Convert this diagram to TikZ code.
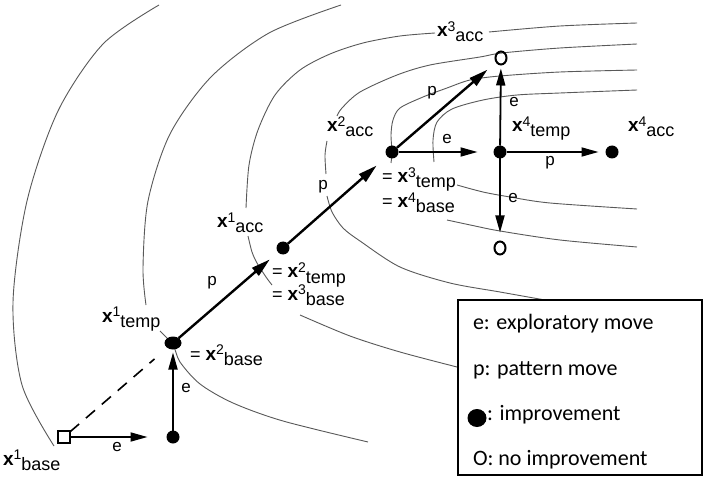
\documentclass[tikz,border=0pt]{standalone}
\usepackage{fontspec}
\setmainfont{Liberation Sans}
\newfontfamily\legfont{Carlito}
\usetikzlibrary{arrows.meta,shapes.geometric}
\newcommand{\xlab}[2]{{\fontsize{19bp}{20bp}\selectfont\bfseries x}\raisebox{5.5bp}{\fontsize{14bp}{14bp}\selectfont #1}\raisebox{-5bp}{#2}}
\begin{document}
\begin{tikzpicture}[x=1bp,y=-1bp,
  every node/.style={inner sep=0pt, outer sep=0pt},
  lab/.style={font=\fontsize{18bp}{20bp}\selectfont, anchor=base west},
  mv/.style={font=\fontsize{17bp}{18bp}\selectfont},
  legtext/.style={font=\legfont\fontsize{22bp}{24bp}\selectfont, anchor=base west},
  contour/.style={draw=black!65, line width=0.9bp},
  dot/.style={circle, fill=black, minimum size=13bp},
  edot/.style={ellipse, fill=black, minimum width=17bp, minimum height=13bp},
  odot/.style={ellipse, draw=black, line width=2bp, minimum width=11bp, minimum height=13bp},
  arrE/.style={line width=1.8bp, -{Triangle[length=17bp,width=9bp]}},
  arrP/.style={line width=2.4bp, -{Triangle[length=19bp,width=10bp]}},
  sq/.style={draw, line width=1.5bp, minimum size=12bp, fill=white}
]
\useasboundingbox (0,0) rectangle (703,479);
\fill[white] (0,0) rectangle (703,479);

% contour lines
\draw[contour] plot[smooth] coordinates {(159,5) (103,44) (58,111) (27,201) (13,302) (22,385) (54,446)};
\draw[contour] plot[smooth] coordinates {(341,5) (269,33) (211,77) (170,134) (148,201) (143,268) (146,305)};
\draw[contour] plot[smooth] coordinates {(160,331) (173,345) (180,362) (200,384) (233,403) (283,421) (368,442)};
\draw[contour] plot[smooth] coordinates {(489,32) (560,26) (637,23)};
\draw[contour] plot[smooth] coordinates {(435,33) (400,36) (363,43) (330,54) (300,70) (275,95) (258,130) (249,165) (246,208)};
\draw[contour] plot[smooth] coordinates {(248,236) (252,252) (257,263) (266,277) (272,285)};
\draw[contour] plot[smooth] coordinates {(300,315) (350,336) (400,352) (457,367)};
\draw[contour] plot[smooth] coordinates {(637,44) (560,48) (502,53) (480,57) (430,65) (397,75) (360,92) (342,108) (337,116)};
\draw[contour] plot[smooth] coordinates {(327,141) (325,155) (326,174)};
\draw[contour] plot[smooth] coordinates {(327,196) (332,212) (343,228) (360,241) (400,267) (450,283) (500,292) (545,300)};
\draw[contour] plot[smooth] coordinates {(637,70) (560,72) (500,76) (470,80) (447,88) (423,97) (400,108) (393,120) (391,135) (392,152) (391,163)};
\draw[contour] plot[smooth] coordinates {(457,185) (483,192) (510,197) (550,203) (637,209)};
\draw[contour] plot[smooth] coordinates {(637,90) (560,93) (517,95) (483,100) (452,109) (437,122) (433,140) (434,162)};
\draw[contour] plot[smooth] coordinates {(447,220) (475,226) (500,231) (560,240) (637,247)};

% points
\node[sq] (b1) at (64,437) {};
\node[dot] (d0) at (173,437) {};
\node[edot] (t1) at (173,343) {};
\node[dot] (d2) at (283,248) {};
\node[dot] (d3) at (392,152) {};
\node[dot] (d4) at (500,152) {};
\node[dot] (d5) at (612,152) {};
\node[odot] (ct) at (501,58) {};
\node[odot] (cb) at (500,248) {};

% moves
\draw[arrE, shorten >=19bp] (b1) -- (d0);
\draw[arrE, shorten >=3bp] (d0) -- (t1);
\draw[line width=1.6bp, dash pattern=on 12bp off 9bp, shorten >=17bp] (b1) -- (t1);
\draw[arrP, shorten >=11bp] (t1) -- (d2);
\draw[arrP, shorten >=14bp] (d2) -- (d3);
\draw[arrP, shorten >=12bp] (d3) -- (ct);
\draw[arrE, shorten >=16bp] (d3) -- (d4);
\draw[arrE, shorten >=4bp] (d4) -- (ct);
\draw[arrE, shorten >=9bp] (d4) -- (cb);
\draw[arrE, shorten >=7bp] (d4) -- (d5);

% point labels
\node[lab] (lb1) at (3,465) {\xlab{1}{base}};
\node[lab] (lt1) at (102,322) {\xlab{1}{temp}};
\node[lab] (lb2) at (190,360) {= \xlab{2}{base}};
\node[lab] (la1) at (217,228) {\xlab{1}{acc}};
\node[lab] (lt2) at (272,278) {= \xlab{2}{temp}};
\node[lab] (lb3) at (272,300) {= \xlab{3}{base}};
\node[lab] (la2) at (327,132) {\xlab{2}{acc}};
\node[lab] (lt3) at (382,183) {= \xlab{3}{temp}};
\node[lab] (lb4) at (382,208) {= \xlab{4}{base}};
\node[lab] (la3) at (437,37) {\xlab{3}{acc}};
\node[lab] (lt4) at (512,132) {\xlab{4}{temp}};
\node[lab] (la4) at (628,132) {\xlab{4}{acc}};

% move labels
\node[mv] (e1) at (117,447) {e};
\node[mv] (e2) at (186,388) {e};
\node[mv] (p1) at (212,283) {p};
\node[mv] (p2) at (323,187) {p};
\node[mv] (p3) at (432,93) {p};
\node[mv] (e3) at (447,139) {e};
\node[mv] (e4) at (514,102) {e};
\node[mv] (e5) at (513,198) {e};
\node[mv] (p4) at (550,163) {p};

% legend
\node[draw, fill=white, line width=1.5bp, minimum width=244bp, minimum height=175bp] (leg) at (580,387.5) {};
\node[legtext] (l1) at (473,329) {e: exploratory move};
\node[legtext] (l2) at (473,375) {p: pattern move};
\node[ellipse, fill=black, minimum width=19bp, minimum height=18bp] (l3d) at (477,418) {};
\node[legtext] (l3) at (487,420) {: improvement};
\node[legtext] (l4) at (473,465) {O: no improvement};
\end{tikzpicture}
\end{document}
